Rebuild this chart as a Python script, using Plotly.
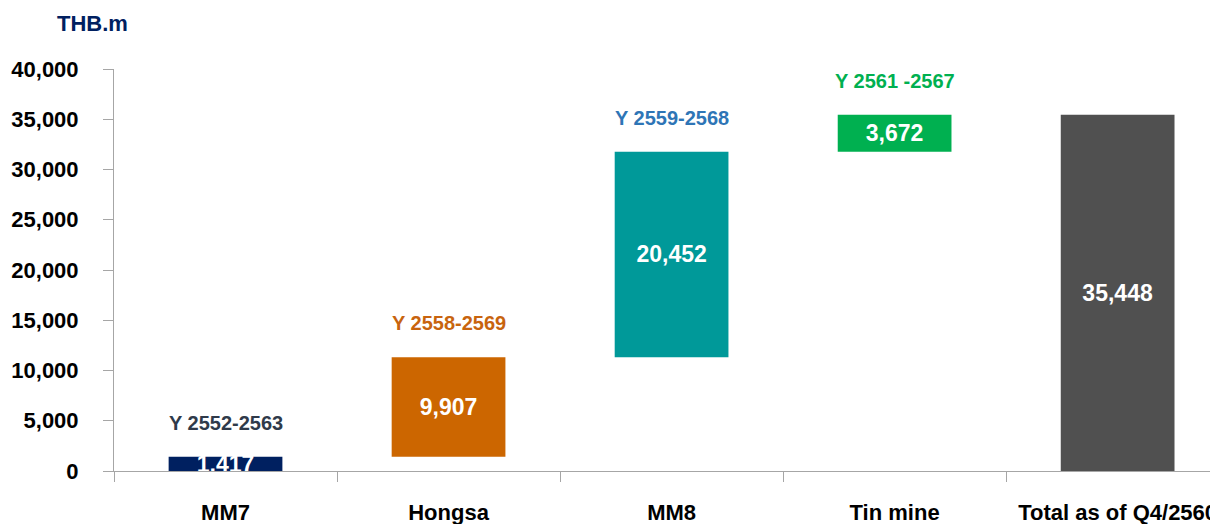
import plotly.graph_objects as go

categories = ["MM7", "Hongsa", "MM8", "Tin mine", "Total as of Q4/2560"]
values = [1417, 9907, 20452, 3672, 35448]
period_labels = ["Y 2552-2563", "Y 2558-2569", "Y 2559-2568", "Y 2561 -2567", ""]
bar_colors = ["#002060", "#CC6600", "#009999", "#00B050", "#505050"]
period_colors = ["#2F3A4A", "#C8640E", "#2E75B6", "#00B050", "#505050"]
y_ticks = [0, 5000, 10000, 15000, 20000, 25000, 30000, 35000, 40000]

# waterfall bases: cumulative for steps, zero for total
bases = []
run = 0
for i, v in enumerate(values):
    if i == len(values) - 1:
        bases.append(0)
    else:
        bases.append(run)
        run += v
tops = [b + v for b, v in zip(bases, values)]

FONT = "Arial, Liberation Sans, sans-serif"

fig = go.Figure()
fig.add_trace(go.Bar(
    x=categories, y=values, base=bases,
    marker=dict(color=bar_colors, line=dict(width=0)),
    width=0.51,
    text=[f"{v:,}" for v in values],
    textposition="inside", insidetextanchor="middle", constraintext="none",
    textfont=dict(family=FONT, size=23, color="white", weight="bold"),
    hoverinfo="skip",
))

for c, t, lab, col in zip(categories, tops, period_labels, period_colors):
    if lab:
        fig.add_annotation(x=c, y=t, text=f"<b>{lab}</b>", showarrow=False,
                           yshift=34, yanchor="middle",
                           font=dict(family=FONT, size=20, color=col))

fig.add_annotation(xref="paper", yref="paper", x=-0.0534, y=1.0, yshift=46,
                   text="<b>THB.m</b>", showarrow=False, xanchor="left",
                   yanchor="middle",
                   font=dict(family=FONT, size=22, color="#002060"))

fig.update_layout(
    width=1210, height=516,
    margin=dict(l=106, r=0, t=61, b=53),
    plot_bgcolor="white", paper_bgcolor="white",
    showlegend=False, bargap=0.49,
    font=dict(family=FONT),
)
fig.update_xaxes(
    range=[-0.5, 4.45], showline=True, linecolor="#A6A6A6", linewidth=1,
    ticks="outside", tickson="boundaries", ticklen=10, tickcolor="#A6A6A6",
    tickfont=dict(family=FONT, size=22, color="black", weight="bold"),
    ticklabelstandoff=22, showgrid=False, zeroline=False,
)
fig.update_yaxes(
    range=[0, 40000], tickvals=y_ticks, ticktext=[f"{v:,}" for v in y_ticks],
    showline=True, linecolor="#A6A6A6", linewidth=1,
    ticks="outside", ticklen=10, tickcolor="#A6A6A6",
    tickfont=dict(family=FONT, size=22, color="black", weight="bold"),
    ticklabelstandoff=20, showgrid=False, zeroline=False,
)

fig.write_html("out.html")
